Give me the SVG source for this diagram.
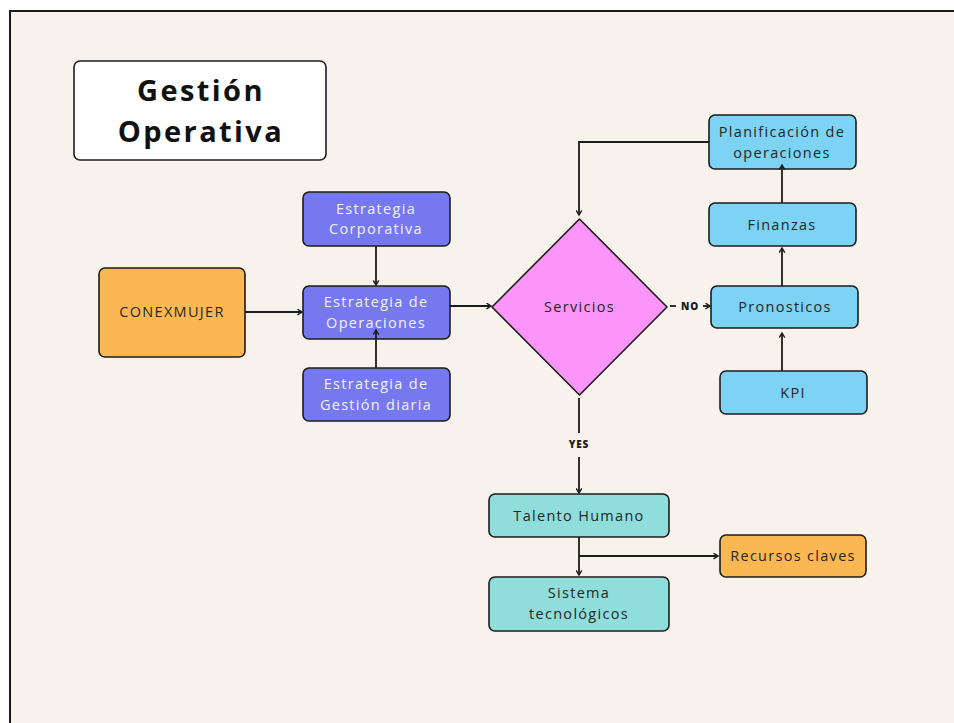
<svg xmlns="http://www.w3.org/2000/svg" width="954" height="723" viewBox="0 0 954 723">
  <style>
    .box { stroke: #1c1c1c; stroke-width: 1.6; }
    .purple { fill: #7678ef; }
    .orange { fill: #fbb852; }
    .sky { fill: #7cd3f4; }
    .teal { fill: #8fdedb; }
    .pink { fill: #fc95f9; }
    .lbl { font-family: "Open Sans", "Liberation Sans", sans-serif; font-size: 14.5px; letter-spacing: 1.3px; fill: #262626; text-anchor: middle; dominant-baseline: central; }
    .light { fill: #f2f2ff; }
    .tag { font-family: "Open Sans", "Liberation Sans", sans-serif; font-size: 10px; font-weight: 800; letter-spacing: 0.8px; fill: #1c1c1c; text-anchor: middle; dominant-baseline: central; }
    .title { font-family: "Open Sans", "Liberation Sans", sans-serif; font-size: 29px; font-weight: 700; letter-spacing: 2.4px; fill: #111; text-anchor: middle; dominant-baseline: central; }
    .link { fill: none; stroke: #1c1c1c; stroke-width: 1.8; }
  </style>
  <defs>
    <marker id="arrow" viewBox="0 0 10 10" refX="8.5" refY="5" markerWidth="7" markerHeight="7" markerUnits="userSpaceOnUse" orient="auto">
      <path d="M2,1 L8.5,5 L2,9" fill="none" stroke="#1c1c1c" stroke-width="2"/>
    </marker>
  </defs>

  <!-- page -->
  <rect x="0" y="0" width="954" height="723" fill="#ffffff"/>
  <rect x="10" y="11" width="944" height="712" fill="#f7f3ec"/>
  <path d="M10,723 L10,11 L954,11" fill="none" stroke="#1a1a1a" stroke-width="2"/>

  <!-- title -->
  <g id="title">
    <rect class="box" x="74" y="61" width="252" height="99" rx="6" fill="#ffffff"/>
    <text class="title" x="201" y="89">Gestión</text>
    <text class="title" x="201" y="130">Operativa</text>
  </g>

  <g id="conexmujer">
    <rect class="box orange" x="99" y="268" width="146" height="89" rx="6"/>
    <text class="lbl" x="172" y="311">CONEXMUJER</text>
  </g>

  <g id="estrategia-corporativa">
    <rect class="box purple" x="303" y="192" width="147" height="54" rx="6"/>
    <text class="lbl light" x="376" y="208">Estrategia</text>
    <text class="lbl light" x="376" y="228">Corporativa</text>
  </g>

  <g id="estrategia-operaciones">
    <rect class="box purple" x="303" y="286" width="147" height="53" rx="6"/>
    <text class="lbl light" x="376" y="301">Estrategia de</text>
    <text class="lbl light" x="376" y="322">Operaciones</text>
  </g>

  <g id="estrategia-gestion">
    <rect class="box purple" x="303" y="368" width="147" height="53" rx="6"/>
    <text class="lbl light" x="376" y="383">Estrategia de</text>
    <text class="lbl light" x="376" y="404">Gestión diaria</text>
  </g>

  <g id="servicios">
    <path class="box pink" d="M579.5,219 L667,307 L579.5,395 L492,307 Z" stroke-linejoin="round"/>
    <text class="lbl" x="579.5" y="306">Servicios</text>
  </g>

  <g id="planificacion">
    <rect class="box sky" x="709" y="115" width="147" height="54" rx="6"/>
    <text class="lbl" x="782" y="131">Planificación de</text>
    <text class="lbl" x="782" y="152">operaciones</text>
  </g>

  <g id="finanzas">
    <rect class="box sky" x="709" y="203" width="147" height="43" rx="6"/>
    <text class="lbl" x="782" y="224">Finanzas</text>
  </g>

  <g id="pronosticos">
    <rect class="box sky" x="711" y="286" width="147" height="42" rx="6"/>
    <text class="lbl" x="785" y="306">Pronosticos</text>
  </g>

  <g id="kpi">
    <rect class="box sky" x="720" y="371" width="147" height="43" rx="6"/>
    <text class="lbl" x="793" y="392">KPI</text>
  </g>

  <g id="talento-humano">
    <rect class="box teal" x="489" y="494" width="180" height="43" rx="6"/>
    <text class="lbl" x="579" y="515">Talento Humano</text>
  </g>

  <g id="sistema-tecnologicos">
    <rect class="box teal" x="489" y="577" width="180" height="54" rx="6"/>
    <text class="lbl" x="579" y="592">Sistema</text>
    <text class="lbl" x="579" y="613">tecnológicos</text>
  </g>

  <g id="recursos-claves">
    <rect class="box orange" x="720" y="535" width="146" height="42" rx="6"/>
    <text class="lbl" x="793" y="555">Recursos claves</text>
  </g>

  <!-- connectors, drawn last so tips that reach into a box stay visible -->
  <g id="connectors">
    <path class="link" d="M245,312 L302,312" marker-end="url(#arrow)"/>
    <path class="link" d="M376,246 L376,285" marker-end="url(#arrow)"/>
    <path class="link" d="M376,368 L376,330" marker-end="url(#arrow)"/>
    <path class="link" d="M450,306 L491,306" marker-end="url(#arrow)"/>
    <path class="link" d="M670,306 L676,306"/>
    <path class="link" d="M703,306 L710,306" marker-end="url(#arrow)"/>
    <path class="link" d="M782,371 L782,333" marker-end="url(#arrow)"/>
    <path class="link" d="M782,286 L782,248" marker-end="url(#arrow)"/>
    <path class="link" d="M782,203 L782,165" marker-end="url(#arrow)"/>
    <path class="link" d="M709,142 L579,142 L579,215" marker-end="url(#arrow)"/>
    <path class="link" d="M579,398 L579,433"/>
    <path class="link" d="M579,457 L579,493" marker-end="url(#arrow)"/>
    <path class="link" d="M579,537 L579,575" marker-end="url(#arrow)"/>
    <path class="link" d="M579,556 L718,556" marker-end="url(#arrow)"/>
    <text class="tag" x="690" y="306">NO</text>
    <text class="tag" x="579" y="444">YES</text>
  </g>
</svg>
